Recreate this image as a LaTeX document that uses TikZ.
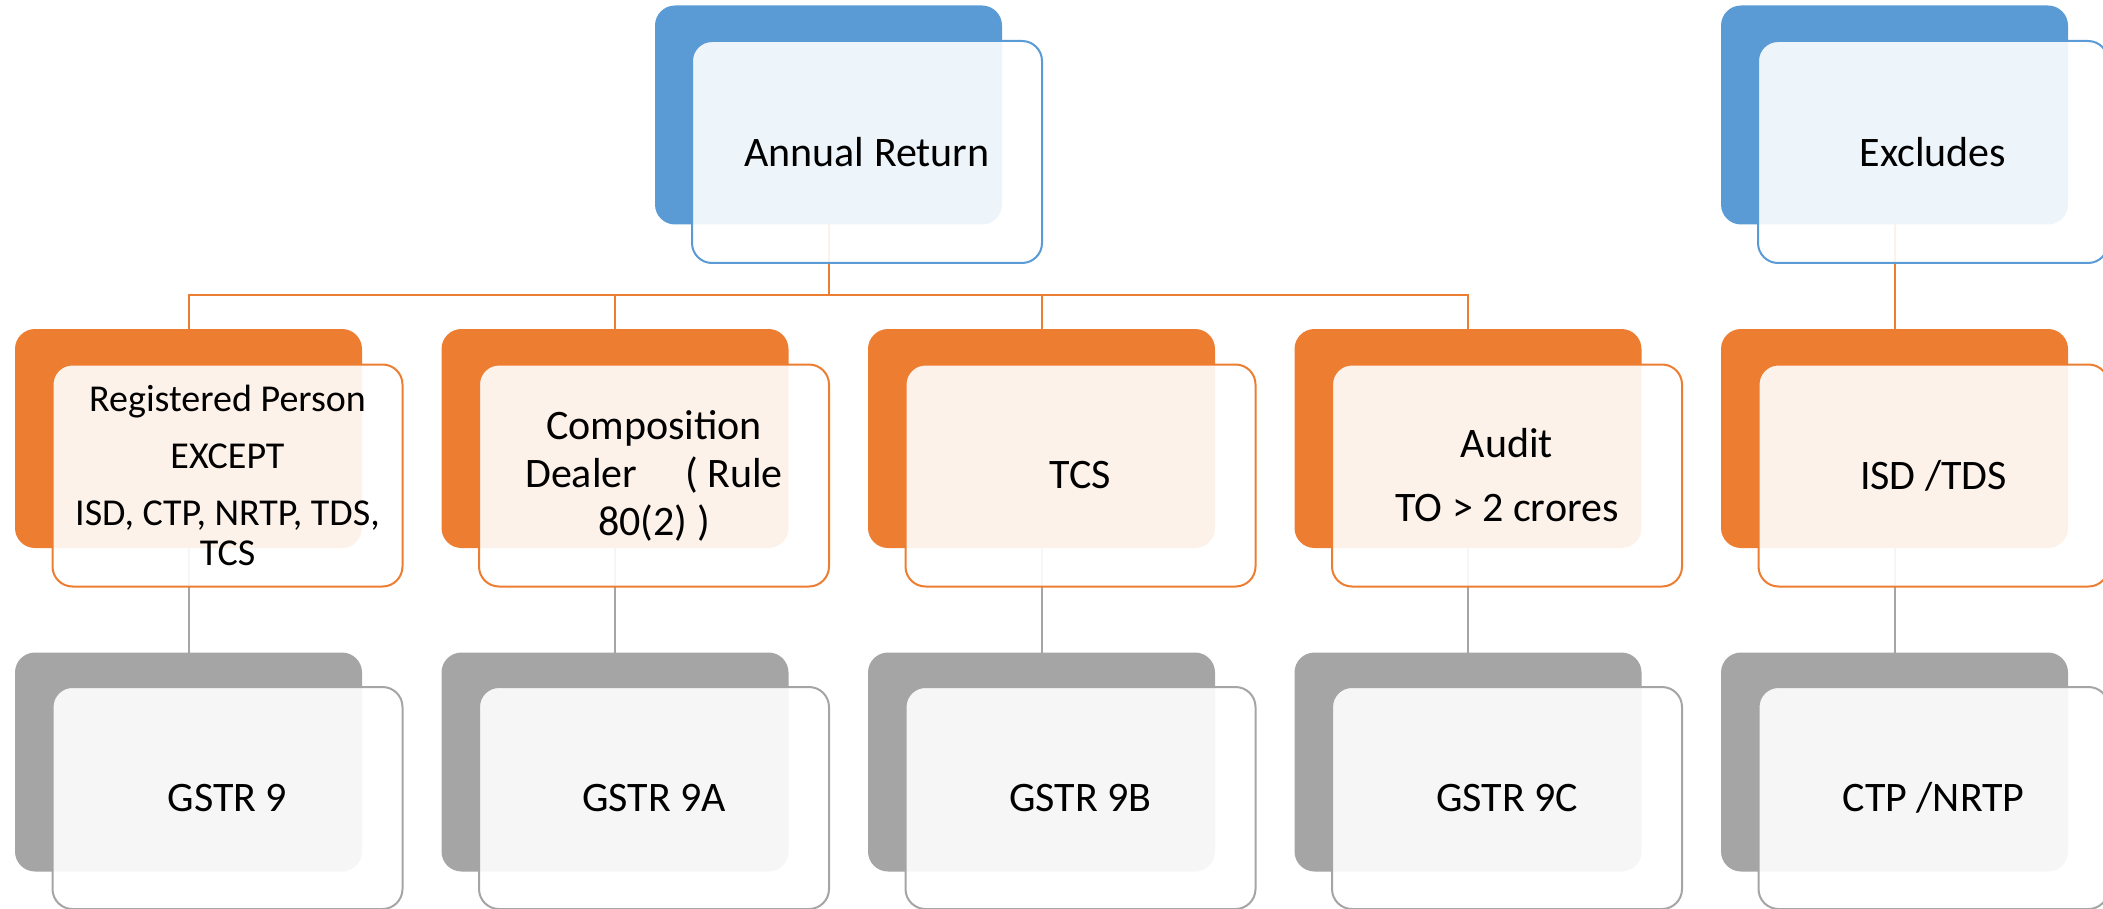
\documentclass[tikz,border=0pt]{standalone}
\usepackage{fontspec}
\setmainfont{Carlito}
\definecolor{cblue}{HTML}{5B9BD5}
\definecolor{corange}{HTML}{ED7D31}
\definecolor{cgray}{HTML}{A5A5A5}
\begin{document}
\begin{tikzpicture}[x=0.5pt,y=-0.5pt,
  back/.style={rectangle, rounded corners=10pt, minimum width=173.5pt, minimum height=109.5pt, inner sep=0pt, outer sep=0pt},
  front/.style={rectangle, rounded corners=10pt, minimum width=175pt, minimum height=111pt, fill=white, fill opacity=0.9, text opacity=1, line width=1pt, align=center, font=\fontsize{21}{24}\selectfont, inner sep=0pt, outer sep=0pt},
  link/.style={line width=1pt}]
\clip (0,0) rectangle (2103,909);
% back boxes
\node[back, fill=cblue] (arb) at (828.5,115) {};
\node[back, fill=cblue] (exb) at (1894.5,115) {};
\node[back, fill=corange] (c1b) at (188.5,438.5) {};
\node[back, fill=corange] (c2b) at (615,438.5) {};
\node[back, fill=corange] (c3b) at (1041.5,438.5) {};
\node[back, fill=corange] (c4b) at (1468,438.5) {};
\node[back, fill=corange] (c5b) at (1894.5,438.5) {};
\node[back, fill=cgray] (g1b) at (188.5,762) {};
\node[back, fill=cgray] (g2b) at (615,762) {};
\node[back, fill=cgray] (g3b) at (1041.5,762) {};
\node[back, fill=cgray] (g4b) at (1468,762) {};
\node[back, fill=cgray] (g5b) at (1894.5,762) {};
% connectors
\coordinate (bus) at (828.5,295);
\draw[link, corange] (arb.south) -- (bus);
\draw[link, corange] (c1b.north) |- (bus);
\draw[link, corange] (c2b.north) |- (bus);
\draw[link, corange] (c3b.north) |- (bus);
\draw[link, corange] (c4b.north) |- (bus);
\draw[link, corange] (exb.south) -- (c5b.north);
\draw[link, cgray] (c1b.south) -- (g1b.north);
\draw[link, cgray] (c2b.south) -- (g2b.north);
\draw[link, cgray] (c3b.south) -- (g3b.north);
\draw[link, cgray] (c4b.south) -- (g4b.north);
\draw[link, cgray] (c5b.south) -- (g5b.north);
% front boxes
\node[front, draw=cblue] (ar) at (867,152) {Annual Return};
\node[front, draw=cblue] (ex) at (1933,152) {Excludes};
\node[front, draw=corange, font=\fontsize{19}{20}\selectfont] (c1) at (227.5,475.5) {Registered Person\\[8.5pt]EXCEPT\\[8.5pt]ISD, CTP, NRTP, TDS,\\TCS};
\node[front, draw=corange] (c2) at (654,475.5) {Composition\\Dealer\hspace{24pt}( Rule\\80(2) )};
\node[front, draw=corange] (c3) at (1080.5,475.5) {TCS};
\node[front, draw=corange] (c4) at (1507,475.5) {Audit\\[8pt]TO > 2 crores};
\node[front, draw=corange] (c5) at (1933.5,475.5) {ISD /TDS};
\node[front, draw=cgray] (g1) at (227.5,798) {GSTR 9};
\node[front, draw=cgray] (g2) at (654,798) {GSTR 9A};
\node[front, draw=cgray] (g3) at (1080.5,798) {GSTR 9B};
\node[front, draw=cgray] (g4) at (1507,798) {GSTR 9C};
\node[front, draw=cgray] (g5) at (1933.5,798) {CTP /NRTP};
\end{tikzpicture}
\end{document}
